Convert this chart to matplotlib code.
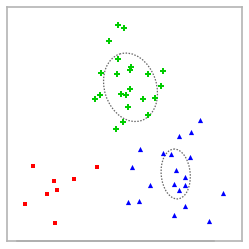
import matplotlib
matplotlib.use("Agg")
import matplotlib.pyplot as plt
from matplotlib.patches import Ellipse

# cluster points (x, y in picture units, y grows downward)
green_x = [118.0, 124.3, 109.3, 118.3, 131.0, 130.0, 101.3, 117.3, 147.7, 162.7, 130.3,
           161.0, 120.7, 126.3, 99.7, 94.7, 142.7, 155.3, 128.3, 148.0, 122.7, 116.3]
green_y = [25.3, 27.7, 41.3, 59.0, 67.0, 70.0, 72.7, 74.3, 73.7, 71.0, 88.7,
           86.3, 94.0, 94.7, 95.3, 98.7, 98.7, 97.7, 107.3, 114.7, 121.7, 128.7]

blue_x = [200.3, 191.3, 178.7, 140.0, 163.0, 171.0, 189.7, 132.3, 175.7, 184.7,
          173.7, 184.7, 150.0, 179.0, 223.0, 128.3, 139.0, 184.7, 174.0, 209.0]
blue_y = [119.7, 132.3, 136.0, 149.0, 153.3, 154.0, 157.3, 166.7, 169.7, 177.3,
          183.7, 184.7, 185.0, 189.7, 193.3, 202.3, 201.0, 206.3, 215.0, 220.7]

red_x = [33.3, 97.3, 73.7, 54.3, 57.3, 47.0, 25.3, 55.3]
red_y = [166.3, 167.3, 179.0, 181.3, 190.3, 194.3, 203.7, 223.0]

# covariance ellipses: center, width, height, angle
ellipses = [
    ((130.5, 87.3), 52, 70, -18),
    ((175.7, 174.0), 29, 50, -5),
]

fig = plt.figure(figsize=(2.49, 2.49), dpi=100)
ax = fig.add_axes([7.3 / 249, 8.3 / 249, 234.4 / 249, 234.0 / 249])

ax.scatter(green_x, green_y, marker='P', s=14, color='#00cc00', linewidths=0, zorder=3)
ax.scatter(blue_x, blue_y, marker='^', s=14, color='#0000ff', linewidths=0, zorder=3)
ax.scatter(red_x, red_y, marker='s', s=10, color='#ff0000', linewidths=0, zorder=3)

for (c, w, h, a) in ellipses:
    ax.add_patch(Ellipse(c, w, h, angle=a, fill=False, edgecolor='#666666',
                         linestyle=(0, (1.2, 1.2)), linewidth=0.9, zorder=2))

ax.set_xlim(7.3, 241.7)
ax.set_ylim(240.7, 6.7)
ax.set_xticks([])
ax.set_yticks([])
for s in ax.spines.values():
    s.set_color('#b4b4b4')
    s.set_linewidth(1.2)
ax.axhline(240.7, xmin=0.04, xmax=0.88, color='#909090', linewidth=1.2, clip_on=False)

fig.savefig("out.png", dpi=100)
